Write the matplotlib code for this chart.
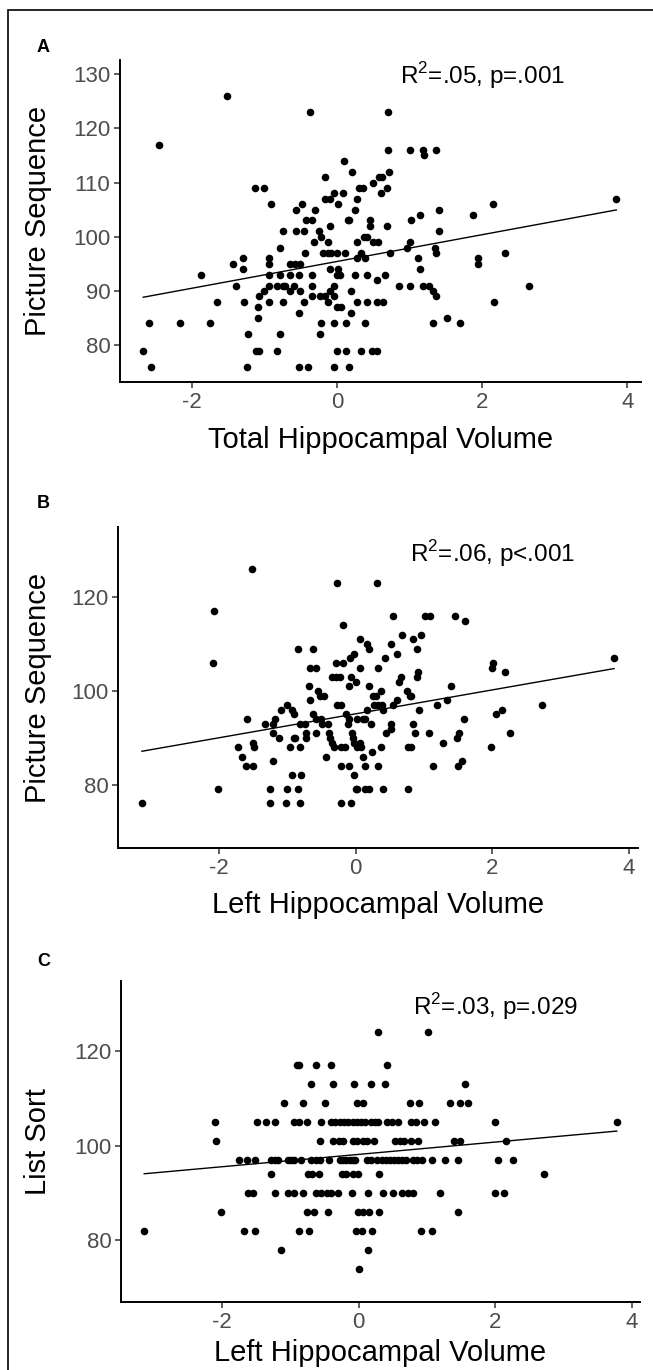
import numpy as np
import matplotlib
matplotlib.use('Agg')
import matplotlib.pyplot as plt
from matplotlib.patches import Rectangle

plt.rcParams['font.family'] = ['Liberation Sans', 'DejaVu Sans']
plt.rcParams['mathtext.fontset'] = 'custom'
plt.rcParams['mathtext.rm'] = 'Liberation Sans'
plt.rcParams['axes.unicode_minus'] = False

# Panel A: total hippocampal volume vs picture sequence
total_x = [-1.52,
           -0.37, 0.71,
           -2.45,
           0.71, 1.01, 1.18, 1.37,
           1.20,
           0.10,
           0.21, 0.72,
           -0.16, 0.58, 0.62,
           0.50,
           -1.13, -1.01, 0.31, 0.36, 0.69,
           -0.04, 0.08, 0.61,
           -0.16, -0.10, 0.27, 3.85,
           -0.91, -0.48, 0.02, 2.15,
           -0.57, -0.30, 0.25, 1.41,
           1.14, 1.88,
           -0.43, -0.35, 0.15, 0.17, 0.46, 1.02,
           -0.10, 0.46, 0.69,
           -0.74, -0.57, -0.46, -0.25, 1.41,
           -0.22, 0.37, 0.42,
           -0.32, -0.12, 0.27, 0.49, 0.57, 1.01,
           -0.78, 0.97, 1.35,
           -0.44, -0.19, -0.13, -0.08, 0.00, 0.11, 0.33, 0.73, 1.37, 2.32,
           -1.29, -0.93, 0.27, 0.39, 1.12, 1.94,
           -1.43, -0.93, -0.65, -0.58, -0.51, 1.94,
           -1.29, -0.10, 0.02, 1.15,
           -1.87, -0.93, -0.79, -0.65, -0.53, -0.35, 0.00, 0.04, 0.25, 0.41, 0.66,
           0.55,
           -1.39, -0.93, -0.83, -0.74, -0.71, -0.59, -0.35, -0.04, 0.85, 1.00, 1.18, 1.27, 2.65,
           -1.01, -0.65, -0.51, -0.10, 0.20, 1.33,
           -1.08, -0.35, -0.23, -0.17, -0.04, 1.37,
           -1.66, -1.28, -0.93, -0.74, -0.46, -0.12, 0.27, 0.42, 0.55, 0.63, 2.16,
           -1.09, 0.00, 0.06,
           -0.53, 0.20,
           -1.09, 1.51,
           -2.59, -2.17, -1.75, -0.22, -0.04, 0.13, 0.39, 1.32, 1.70,
           -1.22, -0.78, -0.23,
           -2.67, -1.12, -1.08, -0.82, 0.00, 0.13, 0.33, 0.48, 0.55,
           -2.56, -1.24, -0.52, -0.40, -0.04, 0.17]
total_y = [126,
           123, 123,
           117,
           116, 116, 116, 116,
           115,
           114,
           112, 112,
           111, 111, 111,
           110,
           109, 109, 109, 109, 109,
           108, 108, 108,
           107, 107, 107, 107,
           106, 106, 106, 106,
           105, 105, 105, 105,
           104, 104,
           103, 103, 103, 103, 103, 103,
           102, 102, 102,
           101, 101, 101, 101, 101,
           100, 100, 100,
           99, 99, 99, 99, 99, 99,
           98, 98, 98,
           97, 97, 97, 97, 97, 97, 97, 97, 97, 97,
           96, 96, 96, 96, 96, 96,
           95, 95, 95, 95, 95, 95,
           94, 94, 94, 94,
           93, 93, 93, 93, 93, 93, 93, 93, 93, 93, 93,
           92,
           91, 91, 91, 91, 91, 91, 91, 91, 91, 91, 91, 91, 91,
           90, 90, 90, 90, 90, 90,
           89, 89, 89, 89, 89, 89,
           88, 88, 88, 88, 88, 88, 88, 88, 88, 88, 88,
           87, 87, 87,
           86, 86,
           85, 85,
           84, 84, 84, 84, 84, 84, 84, 84, 84,
           82, 82, 82,
           79, 79, 79, 79, 79, 79, 79, 79, 79,
           76, 76, 76, 76, 76, 76]

# Panel B: left hippocampal volume vs picture sequence
left_x = [-1.52,
          -0.27, 0.31,
          -2.07,
          0.54, 1.01, 1.08, 1.45,
          1.60,
          -0.18,
          0.67, 0.95,
          0.06, 0.84,
          0.17, 0.51,
          -0.85, -0.62, 0.20, 0.89,
          -0.02, 0.60,
          -0.09, 0.43, 3.78,
          -2.09, -0.29, -0.19, 2.01,
          -0.67, -0.58, 0.06, 0.32, 2.00,
          0.91, 2.18,
          -0.35, -0.29, -0.23, -0.07, 0.66, 0.89,
          0.00, 0.63,
          -0.68, -0.10, 0.20, 1.40,
          -0.55, 0.37, 0.75,
          -0.53, -0.47, 0.25, 0.29, 0.81, 0.79,
          -0.67, 0.61, 1.34,
          -1.00, -0.27, -0.22, 0.26, 0.32, 0.38, 0.55, 1.19, 2.73,
          -1.10, -0.93, 0.17, 0.40, 0.93, 2.14,
          -0.90, -0.62, -0.15, 2.05,
          -1.59, -1.18, -0.58, -0.51, -0.10, 0.02, 0.10, 0.14, 1.58,
          -1.33, -1.21, -0.82, -0.75, -0.50, -0.41, -0.12, 0.22, 0.51, 0.83,
          0.52,
          -1.21, -0.73, -0.58, -0.39, -0.06, 0.44, 0.86, 1.07, 1.51, 2.25,
          -1.12, -0.91, -0.89, -0.73, -0.38, -0.04, 1.48,
          -1.51, -0.35, 0.06, -0.02, 1.27,
          -1.73, -1.49, -0.97, -0.82, -0.32, -0.22, -0.16, 0.02, 0.08, 0.37, 0.77, 0.81, 1.98,
          0.24,
          -1.67, -0.44, 0.11,
          -1.21, 1.56,
          -1.61, -1.51, -0.22, -0.10, 0.14, 0.32, 1.13, 1.50,
          -0.93, -0.80, -0.02,
          -2.01, -1.26, -1.00, -0.85, 0.00, 0.02, 0.14, 0.20, 0.40, 0.77,
          -3.13, -1.26, -1.02, -0.82, -0.21, -0.07]
left_y = [126,
          123, 123,
          117,
          116, 116, 116, 116,
          115,
          114,
          112, 112,
          111, 111,
          110, 110,
          109, 109, 109, 109,
          108, 108,
          107, 107, 107,
          106, 106, 106, 106,
          105, 105, 105, 105, 105,
          104, 104,
          103, 103, 103, 103, 103, 103,
          102, 102,
          101, 101, 101, 101,
          100, 100, 100,
          99, 99, 99, 99, 99, 99,
          98, 98, 98,
          97, 97, 97, 97, 97, 97, 97, 97, 97,
          96, 96, 96, 96, 96, 96,
          95, 95, 95, 95,
          94, 94, 94, 94, 94, 94, 94, 94, 94,
          93, 93, 93, 93, 93, 93, 93, 93, 93, 93,
          92,
          91, 91, 91, 91, 91, 91, 91, 91, 91, 91,
          90, 90, 90, 90, 90, 90, 90,
          89, 89, 89, 89, 89,
          88, 88, 88, 88, 88, 88, 88, 88, 88, 88, 88, 88, 88,
          87,
          86, 86, 86,
          85, 85,
          84, 84, 84, 84, 84, 84, 84, 84,
          82, 82, 82,
          79, 79, 79, 79, 79, 79, 79, 79, 79, 79,
          76, 76, 76, 76, 76, 76]

# Panel C: left hippocampal volume vs list sort
sort_x = [0.29, 1.02,
          -0.91, -0.88, -0.63, -0.41, 0.41,
          -0.70, -0.37, -0.07, 0.18, 0.38, 1.56,
          -1.10, -0.81, -0.49, -0.02, 0.06, 0.75, 0.89, 1.34, 1.49, 1.60,
          -2.10, -1.49, -1.36, -1.22, -0.94, -0.88, -0.76, -0.55, -0.41, -0.34,
          -0.27, -0.21, -0.15, -0.09, -0.03, 0.03, 0.09, 0.18, 0.24, 0.29,
          0.41, 0.49, 0.57, 0.77, 0.84, 0.95, 1.12, 1.99, 3.78,
          -2.09, -0.57, -0.37, -0.29, -0.23, -0.08, -0.03, 0.06, 0.12, 0.23,
          0.53, 0.60, 0.66, 0.76, 0.87, 1.39, 1.49, 2.16,
          -1.75, -1.63, -1.52, -1.28, -1.23, -1.18, -1.04, -0.99, -0.94, -0.84,
          -0.70, -0.63, -0.56, -0.43, -0.27, -0.23, -0.18, -0.13, -0.09, -0.05,
          0.12, 0.18, 0.27, 0.34, 0.40, 0.46, 0.52, 0.58, 0.64, 0.70,
          0.79, 0.85, 0.93, 1.07, 1.26, 1.45, 2.04, 2.26,
          -1.28, -0.74, -0.68, -0.58, -0.24, -0.18, -0.09, -0.01, 0.30, 2.71,
          -1.62, -1.55, -1.22, -1.04, -0.95, -0.81, -0.63, -0.55, -0.47, -0.40,
          -0.30, -0.10, 0.14, 0.35, 0.50, 0.64, 0.73, 0.79, 1.19, 2.00, 2.13,
          -2.01, -0.75, -0.66, -0.45, -0.01, 0.07, 0.15, 0.30, 1.46,
          -3.14, -1.68, -1.52, -0.88, -0.73, -0.04, 0.05, 0.20, 0.91, 1.07,
          -1.13, 0.13,
          0.00]
sort_y = [124, 124,
          117, 117, 117, 117, 117,
          113, 113, 113, 113, 113, 113,
          109, 109, 109, 109, 109, 109, 109, 109, 109, 109,
          105, 105, 105, 105, 105, 105, 105, 105, 105, 105,
          105, 105, 105, 105, 105, 105, 105, 105, 105, 105,
          105, 105, 105, 105, 105, 105, 105, 105, 105,
          101, 101, 101, 101, 101, 101, 101, 101, 101, 101,
          101, 101, 101, 101, 101, 101, 101, 101,
          97, 97, 97, 97, 97, 97, 97, 97, 97, 97,
          97, 97, 97, 97, 97, 97, 97, 97, 97, 97,
          97, 97, 97, 97, 97, 97, 97, 97, 97, 97,
          97, 97, 97, 97, 97, 97, 97, 97,
          94, 94, 94, 94, 94, 94, 94, 94, 94, 94,
          90, 90, 90, 90, 90, 90, 90, 90, 90, 90,
          90, 90, 90, 90, 90, 90, 90, 90, 90, 90, 90,
          86, 86, 86, 86, 86, 86, 86, 86, 86,
          82, 82, 82, 82, 82, 82, 82, 82, 82, 82,
          78, 78,
          74]

panel_letters = ['A', 'B', 'C']
x_titles = ['Total Hippocampal Volume', 'Left Hippocampal Volume', 'Left Hippocampal Volume']
y_titles = ['Picture Sequence', 'Picture Sequence', 'List Sort']
stats_text = [r'R$^{2}$=.05, p=.001', r'R$^{2}$=.06, p<.001', r'R$^{2}$=.03, p=.029']
stats_pos = [(2.0, 129.7), (2.0, 129.3), (2.0, 129.4)]
x_ticks = [-2, 0, 2, 4]
y_ticks = [[80, 90, 100, 110, 120, 130], [80, 100, 120], [80, 100, 120]]

W, H = 653, 1370
fig = plt.figure(figsize=(W / 100, H / 100), dpi=100)
fig.patch.set_facecolor('white')

# outer frame, only the left and top edges fall inside the picture
fig.patches.append(Rectangle((8 / W, -0.1), 1.2, 1.1 - 10 / H, fill=False,
                             edgecolor='black', linewidth=1.2,
                             transform=fig.transFigure))

# pixel boxes: left, right, top, bottom
boxes = [(120, 641, 60, 382), (118, 638, 527, 848), (121, 640, 981, 1302)]
x_lims = [(-2.99, 4.19), (-3.48, 4.13), (-3.48, 4.12)]
y_lims = [(73.2, 132.6), (66.5, 135.0), (67.0, 134.8)]
xlabel_y = [-0.18, -0.178, -0.158]
label_y = [48, 504, 962]

data = [(total_x, total_y), (left_x, left_y), (sort_x, sort_y)]

for i in range(3):
    l, r, t, b = boxes[i]
    ax = fig.add_axes([l / W, 1 - b / H, (r - l) / W, (b - t) / H])
    xs, ys = np.array(data[i][0]), np.array(data[i][1])

    ax.scatter(xs, ys, s=30, color='black', linewidths=0, zorder=3)

    # least squares line over the data range, like geom_smooth(method='lm')
    slope, intercept = np.polyfit(xs, ys, 1)
    line_x = np.array([xs.min(), xs.max()])
    ax.plot(line_x, intercept + slope * line_x, color='black', linewidth=1.0, zorder=2)

    ax.text(stats_pos[i][0], stats_pos[i][1], stats_text[i],
            ha='center', va='center', fontsize=17.5, color='black')

    ax.set_xlim(*x_lims[i])
    ax.set_ylim(*y_lims[i])
    ax.set_xticks(x_ticks)
    ax.set_yticks(y_ticks[i])
    for side in ['top', 'right']:
        ax.spines[side].set_visible(False)
    for side in ['left', 'bottom']:
        ax.spines[side].set_linewidth(1.4)
    ax.tick_params(direction='out', length=4, width=1.1, color='#333333',
                   labelsize=16, labelcolor='#4d4d4d', pad=3)

    ax.set_xlabel(x_titles[i], fontsize=21, va='center')
    ax.xaxis.set_label_coords(0.5, xlabel_y[i])
    ax.set_ylabel(y_titles[i], fontsize=21, va='center')
    ax.yaxis.set_label_coords((38 - l) / (r - l), 0.5)

    fig.text(37 / W, 1 - label_y[i] / H, panel_letters[i], fontsize=13,
             fontweight='bold', ha='left', va='center')

fig.savefig('out.png', dpi=100, facecolor='white')
